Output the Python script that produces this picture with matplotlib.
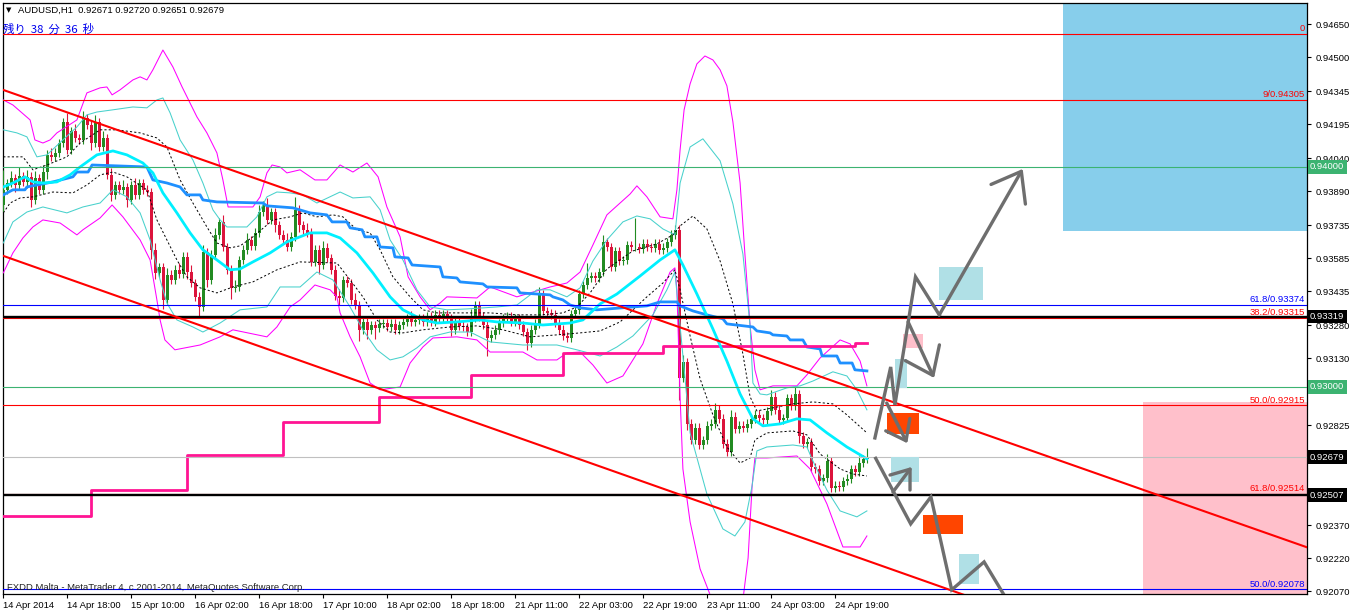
import numpy as np
import matplotlib
matplotlib.use("Agg")
import matplotlib.pyplot as plt
from matplotlib.transforms import blended_transform_factory
from matplotlib.patches import Rectangle

# ---------------- data ----------------
open0 = 0.93827
closes = [
    0.93896, 0.93927, 0.93950, 0.93918, 0.93959, 0.93932, 0.93955, 0.93850, 0.93950, 0.93896,
    0.93977, 0.94055, 0.94046, 0.94064, 0.94109, 0.94205, 0.94078, 0.94164, 0.94132, 0.94123,
    0.94223, 0.94191, 0.94109, 0.94205, 0.94091, 0.94132, 0.93964, 0.93873, 0.93918, 0.93896,
    0.93909, 0.93850, 0.93918, 0.93873, 0.93927, 0.93896, 0.93886, 0.93623, 0.93518, 0.93545,
    0.93395, 0.93509, 0.93486, 0.93532, 0.93513, 0.93591, 0.93522, 0.93472, 0.93409, 0.93363,
    0.93613, 0.93486, 0.93600, 0.93691, 0.93750, 0.93636, 0.93532, 0.93450, 0.93454, 0.93577,
    0.93623, 0.93668, 0.93641, 0.93700, 0.93795, 0.93827, 0.93759, 0.93795, 0.93736, 0.93691,
    0.93668, 0.93636, 0.93682, 0.93805, 0.93736, 0.93714, 0.93700, 0.93568, 0.93623, 0.93554,
    0.93632, 0.93586, 0.93532, 0.93413, 0.93404, 0.93486, 0.93472, 0.93395, 0.93372, 0.93259,
    0.93295, 0.93259, 0.93281, 0.93268, 0.93286, 0.93290, 0.93272, 0.93286, 0.93259, 0.93281,
    0.93295, 0.93313, 0.93295, 0.93304, 0.93313, 0.93295, 0.93318, 0.93295, 0.93327, 0.93313,
    0.93331, 0.93313, 0.93259, 0.93295, 0.93277, 0.93272, 0.93249, 0.93313, 0.93372, 0.93318,
    0.93281, 0.93222, 0.93236, 0.93259, 0.93290, 0.93313, 0.93322, 0.93295, 0.93313, 0.93281,
    0.93249, 0.93199, 0.93259, 0.93286, 0.93422, 0.93345, 0.93336, 0.93327, 0.93290, 0.93259,
    0.93231, 0.93222, 0.93331, 0.93350, 0.93422, 0.93463, 0.93495, 0.93504, 0.93495, 0.93522,
    0.93659, 0.93636, 0.93545, 0.93618, 0.93572, 0.93577, 0.93645, 0.93636, 0.93636, 0.93627,
    0.93650, 0.93636, 0.93632, 0.93650, 0.93623, 0.93632, 0.93659, 0.93691, 0.93714, 0.93040,
    0.93113, 0.92831, 0.92758, 0.92813, 0.92735, 0.92758, 0.92822, 0.92831, 0.92895, 0.92854,
    0.92740, 0.92703, 0.92863, 0.92808, 0.92822, 0.92813, 0.92831, 0.92854, 0.92872, 0.92858,
    0.92849, 0.92890, 0.92954, 0.92895, 0.92849, 0.92858, 0.92949, 0.92913, 0.92967, 0.92776,
    0.92740, 0.92749, 0.92635, 0.92626, 0.92571, 0.92585, 0.92662, 0.92540, 0.92549, 0.92544,
    0.92571, 0.92581, 0.92626, 0.92612, 0.92653, 0.92671, 0.92679,
]
wick_up_pips = [
    9, 2, 3, 2, 4, 2, 3, 2, 3, 2,   3, 2, 3, 2, 2, 2, 4, 2, 3, 2,
    3, 2, 2, 3, 2, 3, 2, 3, 2, 2,   3, 2, 2, 3, 2, 2, 2, 2, 3, 2,
    2, 3, 2, 2, 3, 2, 2, 3, 2, 2,   3, 2, 2, 3, 2, 3, 2, 2, 3, 2,
    2, 3, 2, 2, 3, 2, 3, 2, 2, 2,   2, 3, 2, 6, 2, 2, 3, 2, 2, 2,
    3, 2, 2, 2, 3, 2, 2, 2, 3, 2,   2, 2, 2, 2, 2, 2, 2, 2, 2, 2,
    2, 2, 3, 2, 2, 2, 2, 2, 2, 2,   2, 2, 2, 2, 2, 2, 2, 4, 2, 2,
    2, 2, 2, 2, 2, 2, 2, 2, 2, 2,   2, 2, 2, 2, 3, 2, 2, 2, 2, 2,
    2, 2, 2, 2, 2, 2, 7, 2, 2, 2,   3, 2, 2, 2, 2, 2, 2, 2, 13, 2,
    2, 2, 2, 2, 2, 2, 2, 2, 2, 2,   3, 2, 2, 2, 2, 2, 2, 2, 3, 2,
    2, 2, 3, 2, 2, 2, 2, 2, 2, 2,   2, 2, 3, 2, 2, 2, 2, 2, 3, 2,
    2, 2, 2, 2, 2, 2, 3, 2, 2, 2,   2, 2, 2, 2, 3, 2, 4.1,
]
wick_dn_pips = [
    3, 2, 2, 3, 2, 2, 3, 3, 2, 2,   2, 3, 2, 2, 2, 2, 2, 2, 2, 2,
    2, 2, 3, 2, 2, 2, 2, 3, 2, 2,   2, 3, 2, 2, 2, 2, 2, 4, 3, 2,
    4, 2, 2, 2, 2, 2, 3, 2, 2, 4,   2, 3, 2, 2, 2, 2, 2, 5, 2, 2,
    2, 2, 2, 2, 2, 2, 2, 2, 3, 2,   2, 2, 2, 2, 3, 2, 2, 2, 2, 4,
    2, 2, 2, 2, 3, 2, 2, 2, 2, 5,   2, 4, 2, 5, 2, 2, 2, 2, 2, 2,
    2, 2, 2, 2, 2, 2, 2, 2, 2, 2,   2, 2, 3, 2, 2, 2, 2, 2, 2, 2,
    2, 8, 2, 2, 2, 2, 2, 2, 2, 2,   2, 3, 2, 2, 2, 2, 2, 2, 2, 2,
    2, 2, 2, 2, 2, 2, 2, 2, 2, 2,   2, 2, 2, 2, 2, 2, 2, 2, 2, 2,
    2, 2, 2, 2, 2, 2, 2, 2, 2, 10,  2, 3, 2, 2, 2, 2, 2, 2, 2, 2,
    2, 2, 2, 2, 2, 2, 2, 2, 2, 2,   2, 2, 2, 2, 2, 2, 2, 2, 2, 3,
    2, 2, 2, 2, 2, 2, 2, 2, 2, 2,   2, 2, 2, 2, 2, 2, 2.0,
]

# Bollinger-type bands (outer magenta, inner turquoise, dashed black)
mag_up_x = [0, 2.4, 6.7, 7.9, 9.9, 11.7, 13.4, 18.4, 20.9, 24.2, 25.9, 27.2, 29.2, 32.4, 34.2, 35.9,
            37.4, 39.9, 42.4, 44.7, 48.4, 50.9, 53.4, 54.9, 56.2, 62.4, 64.2, 65.9, 67.2, 69.2, 70.9,
            74.2, 77.9, 80.9, 84.2, 87.4, 90.9, 93.7, 95.9, 99.2, 101.2, 104.2, 106.7, 109.2, 110.9,
            118.4, 121.7, 128.4, 131.7, 136.7, 140.9, 144.2, 147.4, 150.9, 156.7, 158.4, 160.9, 164.2,
            167.4, 168.4, 169.2, 170.2, 171.7, 173.4, 175.4, 177.4, 179.2, 180.9, 182.4, 184.2, 185.4,
            186.7, 187.9, 189.2, 192.4, 198.4, 200.9, 204.2, 209.2, 211.7, 214.2, 215.9]
mag_up_y = [0.94305, 0.94282, 0.94214, 0.94123, 0.94109, 0.94123, 0.94155, 0.94214, 0.94337, 0.94360,
            0.94364, 0.94328, 0.94351, 0.94396, 0.94410, 0.94396, 0.94442, 0.94532, 0.94455, 0.94364,
            0.94228, 0.94155, 0.94064, 0.93941, 0.93818, 0.93818, 0.93864, 0.93973, 0.94009, 0.94000,
            0.93973, 0.93987, 0.93941, 0.93941, 0.94009, 0.93977, 0.94018, 0.93955, 0.93818, 0.93682,
            0.93500, 0.93409, 0.93350, 0.93381, 0.93409, 0.93404, 0.93454, 0.93409, 0.93427, 0.93454,
            0.93472, 0.93522, 0.93645, 0.93782, 0.93877, 0.93914, 0.93864, 0.93773, 0.93764, 0.93896,
            0.94078, 0.94260, 0.94378, 0.94469, 0.94505, 0.94487, 0.94442, 0.94369, 0.94205, 0.93927,
            0.93604, 0.93277, 0.93077, 0.92986, 0.93004, 0.93004, 0.93054, 0.93131, 0.93213, 0.93195,
            0.93117, 0.93004]
mag_lo_x = [0, 2.4, 4.9, 7.4, 9.9, 14.2, 18.4, 19.9, 24.2, 27.2, 29.9, 34.2, 36.7, 38.4, 39.2, 40.4,
            42.9, 49.2, 54.2, 57.4, 65.9, 68.4, 71.7, 74.2, 77.9, 81.7, 83.4, 84.2, 86.7, 89.2, 91.7,
            94.2, 99.2, 101.7, 104.9, 107.4, 113.4, 118.4, 121.7, 129.9, 133.4, 138.4, 140.9, 144.2,
            147.4, 150.9, 154.9, 159.9, 163.4, 166.7, 167.9, 168.4, 169.2, 169.9, 171.7, 174.2, 177.2,
            179.2, 181.2, 183.2, 184.9, 186.2, 187.2, 187.9, 190.9, 198.4, 201.7, 205.9, 209.9, 214.2,
            215.9]
mag_lo_y = [0.93518, 0.93609, 0.93677, 0.93727, 0.93759, 0.93745, 0.93691, 0.93714, 0.93768, 0.93827,
            0.93773, 0.93668, 0.93577, 0.93395, 0.93304, 0.93213, 0.93168, 0.93190, 0.93227, 0.93259,
            0.93227, 0.93272, 0.93363, 0.93395, 0.93463, 0.93441, 0.93409, 0.93336, 0.93227, 0.93136,
            0.93017, 0.92986, 0.92999, 0.93108, 0.93181, 0.93222, 0.93227, 0.93213, 0.93158, 0.93158,
            0.93122, 0.93122, 0.93154, 0.93158, 0.93099, 0.93017, 0.93049, 0.93195, 0.93377, 0.93522,
            0.93541, 0.93441, 0.92954, 0.92626, 0.92385, 0.92171, 0.92030, 0.91894, 0.91803, 0.91894,
            0.92030, 0.92221, 0.92549, 0.92676, 0.92676, 0.92685, 0.92626, 0.92467, 0.92271, 0.92271,
            0.92321]
tq_up_x = [0, 3.4, 5.9, 8.4, 10.9, 14.9, 18.4, 20.9, 23.4, 27.4, 32.4, 35.9, 38.4, 39.9, 41.7, 44.2,
           47.4, 49.9, 52.4, 54.2, 55.9, 60.9, 63.4, 65.9, 68.4, 71.7, 74.9, 78.4, 84.2, 87.4, 91.7,
           94.2, 96.7, 99.9, 103.4, 106.7, 110.9, 115.9, 123.4, 128.4, 133.4, 136.7, 140.9, 144.2,
           147.4, 150.9, 154.9, 158.4, 161.7, 164.9, 167.9, 169.2, 171.7, 174.9, 179.2, 182.4, 184.9,
           186.7, 187.4, 189.2, 190.9, 195.9, 199.2, 202.4, 207.4, 210.9, 213.4, 215.9]
tq_up_y = [0.94169, 0.94155, 0.94137, 0.94046, 0.94055, 0.94123, 0.94182, 0.94237, 0.94250, 0.94260,
           0.94273, 0.94269, 0.94305, 0.94314, 0.94246, 0.94123, 0.94032, 0.93927, 0.93805, 0.93759,
           0.93727, 0.93727, 0.93773, 0.93864, 0.93886, 0.93882, 0.93873, 0.93836, 0.93886, 0.93859,
           0.93864, 0.93805, 0.93668, 0.93577, 0.93441, 0.93363, 0.93350, 0.93354, 0.93363, 0.93372,
           0.93441, 0.93441, 0.93409, 0.93450, 0.93572, 0.93668, 0.93750, 0.93777, 0.93764, 0.93718,
           0.93691, 0.93927, 0.94091, 0.94128, 0.94028, 0.93832, 0.93604, 0.93277, 0.93017, 0.92967,
           0.92963, 0.92995, 0.93004, 0.93026, 0.93068, 0.93049, 0.92986, 0.92895]
tq_lo_x = [0, 2.4, 5.9, 9.9, 15.9, 19.9, 24.2, 27.4, 30.9, 34.2, 36.7, 39.2, 40.9, 43.4, 47.4, 49.9,
           54.2, 59.2, 65.9, 69.2, 74.2, 78.4, 82.4, 86.7, 89.9, 93.4, 96.7, 99.9, 103.4, 106.7, 111.7,
           116.7, 121.7, 129.9, 138.4, 143.4, 149.2, 153.4, 157.4, 162.4, 165.9, 167.9, 169.2, 171.7,
           175.9, 179.9, 182.9, 185.4, 187.2, 188.4, 190.9, 197.4, 200.9, 202.4, 205.9, 209.2, 213.4,
           215.9]
tq_lo_y = [0.93654, 0.93750, 0.93795, 0.93818, 0.93791, 0.93818, 0.93836, 0.93896, 0.93864, 0.93791,
           0.93668, 0.93486, 0.93381, 0.93304, 0.93272, 0.93249, 0.93290, 0.93350, 0.93363, 0.93454,
           0.93454, 0.93522, 0.93486, 0.93363, 0.93259, 0.93168, 0.93122, 0.93136, 0.93177, 0.93227,
           0.93249, 0.93249, 0.93204, 0.93190, 0.93190, 0.93168, 0.93140, 0.93181, 0.93231, 0.93327,
           0.93441, 0.93522, 0.93277, 0.92790, 0.92512, 0.92353, 0.92321, 0.92385, 0.92549, 0.92708,
           0.92726, 0.92735, 0.92726, 0.92662, 0.92530, 0.92435, 0.92408, 0.92435]
dash_up_x = [0, 4.9, 7.4, 10.9, 15.9, 19.2, 24.2, 28.4, 34.2, 38.4, 40.9, 44.2, 47.4, 50.9, 53.4, 56.7,
             59.2, 62.4, 67.4, 71.7, 74.9, 78.4, 82.4, 84.9, 88.4, 91.7, 94.2, 97.4, 101.7, 104.9, 108.4,
             121.7, 128.4, 134.2, 139.9, 143.4, 146.7, 150.9, 157.4, 163.4, 167.4, 169.2, 172.4, 175.9,
             179.2, 182.4, 184.9, 186.7, 188.4, 192.4, 197.4, 202.4, 207.4, 210.9, 215.9]
dash_up_y = [0.94046, 0.94046, 0.93987, 0.94009, 0.94046, 0.94109, 0.94169, 0.94169, 0.94155, 0.94132,
             0.94091, 0.93941, 0.93836, 0.93727, 0.93654, 0.93632, 0.93641, 0.93682, 0.93759, 0.93773,
             0.93791, 0.93773, 0.93782, 0.93773, 0.93714, 0.93700, 0.93623, 0.93500, 0.93409, 0.93350,
             0.93336, 0.93336, 0.93327, 0.93327, 0.93336, 0.93363, 0.93427, 0.93536, 0.93618, 0.93650,
             0.93691, 0.93732, 0.93777, 0.93718, 0.93572, 0.93377, 0.93149, 0.92954, 0.92890, 0.92904,
             0.92922, 0.92931, 0.92922, 0.92872, 0.92790]
dash_lo_x = [0, 1.7, 4.2, 7.4, 12.4, 17.4, 20.9, 24.2, 27.4, 30.9, 35.9, 38.4, 40.9, 43.4, 45.9, 49.2,
             53.4, 57.4, 62.4, 68.4, 74.2, 83.4, 86.7, 89.9, 93.4, 96.7, 99.9, 104.9, 111.7, 118.4, 124.9,
             131.7, 138.4, 144.2, 149.2, 154.2, 160.9, 164.9, 167.9, 169.2, 171.7, 174.2, 177.4, 180.9,
             184.2, 186.7, 187.9, 190.9, 197.4, 200.9, 204.2, 209.2, 212.4, 215.9]
dash_lo_y = [0.93791, 0.93836, 0.93859, 0.93864, 0.93886, 0.93882, 0.93918, 0.93964, 0.93977, 0.93955,
             0.93896, 0.93759, 0.93668, 0.93577, 0.93500, 0.93450, 0.93427, 0.93454, 0.93477, 0.93532,
             0.93568, 0.93563, 0.93486, 0.93409, 0.93304, 0.93249, 0.93245, 0.93259, 0.93272, 0.93277,
             0.93259, 0.93227, 0.93236, 0.93245, 0.93254, 0.93295, 0.93409, 0.93472, 0.93532, 0.93441,
             0.93231, 0.93036, 0.92872, 0.92726, 0.92653, 0.92676, 0.92758, 0.92790, 0.92799, 0.92781,
             0.92694, 0.92626, 0.92603, 0.92594]
ma_x = [0, 2.4, 5.4, 7.4, 9.9, 13.4, 16.7, 19.2, 23.4, 27.4, 30.9, 34.9, 37.4, 39.9, 43.4, 46.7, 49.9,
        53.4, 56.7, 59.2, 62.4, 66.7, 70.9, 76.7, 80.9, 84.2, 88.4, 92.4, 96.7, 99.9, 104.9, 108.4,
        113.4, 119.2, 123.4, 129.9, 134.9, 141.7, 144.9, 149.2, 153.4, 159.2, 164.2, 167.9, 169.9,
        173.4, 177.4, 180.9, 184.2, 187.4, 189.9, 194.2, 198.4, 201.7, 205.9, 210.9, 215.9]
ma_y = [0.93909, 0.93927, 0.93955, 0.93932, 0.93927, 0.93932, 0.93964, 0.94000, 0.94055, 0.94073,
        0.94055, 0.94018, 0.93973, 0.93882, 0.93791, 0.93700, 0.93623, 0.93577, 0.93532, 0.93536,
        0.93568, 0.93609, 0.93659, 0.93700, 0.93700, 0.93677, 0.93609, 0.93518, 0.93409, 0.93350,
        0.93304, 0.93290, 0.93295, 0.93304, 0.93295, 0.93290, 0.93281, 0.93290, 0.93304, 0.93377,
        0.93422, 0.93504, 0.93577, 0.93623, 0.93554, 0.93422, 0.93263, 0.93117, 0.92967, 0.92854,
        0.92822, 0.92831, 0.92854, 0.92849, 0.92790, 0.92726, 0.92672]
base_x = [0, 2.4, 5.4, 5.9, 12.4, 17.4, 18.4, 21.2, 22.2, 35.9, 37.4, 40.9, 44.2, 45.9, 49.2, 49.9,
          53.4, 64.9, 65.9, 72.4, 76.7, 80.9, 82.2, 85.9, 86.7, 89.7, 90.4, 93.4, 94.2, 97.4, 97.9,
          101.2, 102.2, 109.2, 109.9, 113.4, 114.2, 119.9, 120.9, 128.4, 129.2, 136.7, 137.4, 139.9,
          141.7, 144.2, 148.4, 160.9, 164.2, 168.4, 169.2, 172.4, 175.9, 179.9, 180.9, 187.4, 188.4,
          191.7, 192.4, 195.9, 196.7, 199.9, 200.9, 204.2, 204.7, 208.4, 209.2, 212.2, 212.9, 215.9]
base_y = [0.93873, 0.93896, 0.93896, 0.93909, 0.93932, 0.93955, 0.93977, 0.93977, 0.94009, 0.94000,
          0.93941, 0.93927, 0.93909, 0.93873, 0.93873, 0.93850, 0.93841, 0.93836, 0.93823, 0.93814,
          0.93791, 0.93782, 0.93750, 0.93750, 0.93723, 0.93714, 0.93682, 0.93682, 0.93636, 0.93632,
          0.93591, 0.93586, 0.93554, 0.93545, 0.93500, 0.93495, 0.93477, 0.93468, 0.93454, 0.93450,
          0.93427, 0.93418, 0.93409, 0.93395, 0.93372, 0.93359, 0.93350, 0.93368, 0.93386, 0.93386,
          0.93368, 0.93345, 0.93327, 0.93309, 0.93286, 0.93272, 0.93254, 0.93245, 0.93236, 0.93231,
          0.93213, 0.93213, 0.93181, 0.93172, 0.93140, 0.93140, 0.93108, 0.93108, 0.93077, 0.93072]
step_x = [0, 22, 46, 70, 94, 117, 140, 165, 213, 216]
step_y = [0.92412, 0.92530, 0.92690, 0.92840, 0.92954, 0.93054, 0.93154, 0.93186, 0.93199, 0.93199]

# trend channel (bar, price end points)
chan_up_x = [-0.1, 326.0]
chan_up_y = [0.94351, 0.92269]
chan_lo_x = [-0.1, 250.0]
chan_lo_y = [0.93596, 0.91990]

# horizontal levels: price, colour, width, right-side label
levels = [
    (0.94605, "#FF0000", 0.8, "0"),
    (0.94305, "#FF0000", 0.8, "9/0.94305"),
    (0.94000, "#3CB371", 0.8, ""),
    (0.93374, "#0000FF", 0.8, "61.8/0.93374"),
    (0.93315, "#FF0000", 0.8, "38.2/0.93315"),
    (0.93319, "#000000", 1.7, ""),
    (0.93000, "#3CB371", 0.8, ""),
    (0.92915, "#FF0000", 0.8, "50.0/0.92915"),
    (0.92679, "#C0C0C0", 0.8, ""),
    (0.92514, "#FF0000", 0.8, "61.8/0.92514"),
    (0.92507, "#000000", 1.7, ""),
    (0.92078, "#0000FF", 0.8, "50.0/0.92078"),
]
axis_boxes = [(0.94000, "#3CB371"), (0.93319, "#000000"), (0.93000, "#3CB371"),
              (0.92679, "#000000"), (0.92507, "#000000")]

# rectangles: bar0, bar1, price_lo, price_hi, colour
rects = [
    (264.9, 330, 0.93709, 0.95000, "#87CEEB"),
    (284.9, 330, 0.91000, 0.92931, "#FFC0CB"),
    (233.9, 244.9, 0.93395, 0.93545, "#B0E0E6"),
    (222.9, 225.9, 0.92995, 0.93127, "#B0E0E6"),
    (221.9, 228.9, 0.92567, 0.92681, "#B0E0E6"),
    (238.9, 243.9, 0.92103, 0.92239, "#B0E0E6"),
    (224.9, 229.9, 0.93177, 0.93240, "#FFC0CB"),
    (220.9, 228.9, 0.92785, 0.92881, "#FF4500"),
    (229.9, 239.9, 0.92330, 0.92417, "#FF4500"),
]

# hand-drawn arrows (bar, price); last segment carries the head
arrows = [
    ([217.9, 221.85, 222.9, 228.05, 234.0, 254.85],
     [0.92767, 0.93090, 0.92917, 0.93500, 0.93327, 0.93991], 1.9),
    ([226.2, 232.7], [0.93295, 0.93040], 1.8),
    ([220.85, 226.0], [0.92926, 0.92743], 1.3),
    ([222.4, 227.1], [0.92521, 0.92635], 1.2),
]
path_x = [217.9, 226.85, 231.9, 237.1, 245.2, 251.7]
path_y = [0.92681, 0.92376, 0.92499, 0.92076, 0.92203, 0.92007]

xtick_pos = [0, 16, 32, 48, 64, 80, 96, 112, 128, 144, 160, 176, 192, 208]
xtick_lab = ["14 Apr 2014", "14 Apr 18:00", "15 Apr 10:00", "16 Apr 02:00", "16 Apr 18:00",
             "17 Apr 10:00", "18 Apr 02:00", "18 Apr 18:00", "21 Apr 11:00", "22 Apr 03:00",
             "22 Apr 19:00", "23 Apr 11:00", "24 Apr 03:00", "24 Apr 19:00"]
ytick_pos = [0.94650, 0.94500, 0.94345, 0.94195, 0.94040, 0.93890, 0.93735, 0.93585, 0.93435,
             0.93280, 0.93130, 0.92825, 0.92370, 0.92220, 0.92070]

# ---------------- drawing ----------------
plt.rcParams["font.family"] = ["Liberation Sans", "DejaVu Sans"]
W, H = 1350, 613
fig = plt.figure(figsize=(W / 100, H / 100), dpi=100)
fig.patch.set_facecolor("white")
ax = fig.add_axes([3 / W, 19 / H, 1304 / W, 591 / H])
ax.set_xlim(-0.075, 325.925)
ax.set_ylim(0.92057, 0.94746)

closes_a = np.array(closes)
opens_a = np.r_[open0, closes_a[:-1]]
body_hi = np.maximum(opens_a, closes_a)
body_lo = np.minimum(opens_a, closes_a)
highs = body_hi + np.array(wick_up_pips) * 1e-4
lows = body_lo - np.array(wick_dn_pips) * 1e-4
xs = np.arange(len(closes_a))
cols = np.where(closes_a >= opens_a, "#228B22", "#DC143C")

ax.vlines(xs, lows, highs, colors=cols, lw=0.8, zorder=3)
ax.bar(xs, np.maximum(body_hi - body_lo, 0.00002), bottom=body_lo, width=0.75,
       color=cols, linewidth=0, zorder=3)

for r in rects:
    z = 0.5 if r[0] > 260 else 5.5
    ax.add_patch(Rectangle((r[0], r[2]), r[1] - r[0], r[3] - r[2], facecolor=r[4],
                           edgecolor="none", zorder=z))

ax.plot(mag_up_x, mag_up_y, color="#FF00FF", lw=0.75, zorder=4)
ax.plot(mag_lo_x, mag_lo_y, color="#FF00FF", lw=0.75, zorder=4)
ax.plot(tq_up_x, tq_up_y, color="#48D1CC", lw=0.75, zorder=4)
ax.plot(tq_lo_x, tq_lo_y, color="#48D1CC", lw=0.75, zorder=4)
ax.plot(dash_up_x, dash_up_y, color="black", lw=0.7, ls=(0, (2.2, 2.2)), zorder=4)
ax.plot(dash_lo_x, dash_lo_y, color="black", lw=0.7, ls=(0, (2.2, 2.2)), zorder=4)
ax.plot(ma_x, ma_y, color="#00F0FF", lw=2.0, zorder=4.2)
ax.plot(base_x, base_y, color="#1E90FF", lw=2.0, zorder=4.1)
ax.step(step_x, step_y, where="post", color="#FF1493", lw=2.0, zorder=4.1)

ax.plot(chan_up_x, chan_up_y, color="#FF0000", lw=1.5, zorder=5)
ax.plot(chan_lo_x, chan_lo_y, color="#FF0000", lw=1.5, zorder=5)

trans = blended_transform_factory(ax.transAxes, ax.transData)
for price, col, lw, lab in levels:
    ax.axhline(price, color=col, lw=lw, zorder=4.5)
    if lab:
        ax.text(0.9985, price + 0.00003, lab, transform=trans, ha="right", va="bottom",
                color=col, fontsize=6.8, zorder=7)

gray = "#6E6E6E"
ax.plot(path_x, path_y, color=gray, lw=2.4, zorder=6, solid_capstyle="butt",
        solid_joinstyle="miter", clip_on=True)
for bx, by, hl in arrows:
    if len(bx) > 2:
        ax.plot(bx[:-1], by[:-1], color=gray, lw=2.4, zorder=6, solid_joinstyle="miter")
    ax.annotate("", xy=(bx[-1], by[-1]), xytext=(bx[-2], by[-2]),
                arrowprops=dict(arrowstyle=f"->,head_length={hl},head_width={hl*0.75}",
                                color=gray, lw=2.4, shrinkA=0, shrinkB=0), zorder=6)

# axes styling
for s in ax.spines.values():
    s.set_color("black")
    s.set_linewidth(0.9)
ax.yaxis.tick_right()
ax.set_yticks(ytick_pos)
ax.set_yticklabels([f"{v:.5f}" for v in ytick_pos])
ax.set_xticks(xtick_pos)
ax.set_xticklabels(xtick_lab, ha="left")
ax.tick_params(axis="y", length=3, width=0.8, pad=3, labelsize=6.8, colors="black")
ax.tick_params(axis="x", length=3, width=0.8, pad=2, labelsize=6.8, colors="black")
for t in ax.get_xticklabels():
    t.set_horizontalalignment("left")

for price, col in axis_boxes:
    ax.text(1.0 + 3 / 1304, price, f"{price:.5f}", transform=trans, ha="left", va="center",
            color="white", fontsize=6.8, zorder=10, clip_on=False,
            bbox=dict(boxstyle="square,pad=0.25", fc=col, ec="none"))

# header texts
fig.text(6 / W, 1 - 10 / H, "▼", fontsize=5, va="center", ha="left", color="black",
         family=["DejaVu Sans"])
fig.text(18 / W, 1 - 10 / H, "AUDUSD,H1  0.92671 0.92720 0.92651 0.92679", fontsize=6.8,
         va="center", ha="left", color="black")
fig.text(3 / W, 1 - 29 / H, "残り  38  分  36  秒", fontsize=8.2, va="center", ha="left",
         color="#0000EE", family=["Noto Sans CJK JP", "DejaVu Sans"], zorder=10)
fig.text(7 / W, 1 - 587 / H, "FXDD Malta - MetaTrader 4, c 2001-2014, MetaQuotes Software Corp.",
         fontsize=6.8, va="center", ha="left", color="#222222")

fig.savefig("out.png", dpi=100, facecolor="white")
